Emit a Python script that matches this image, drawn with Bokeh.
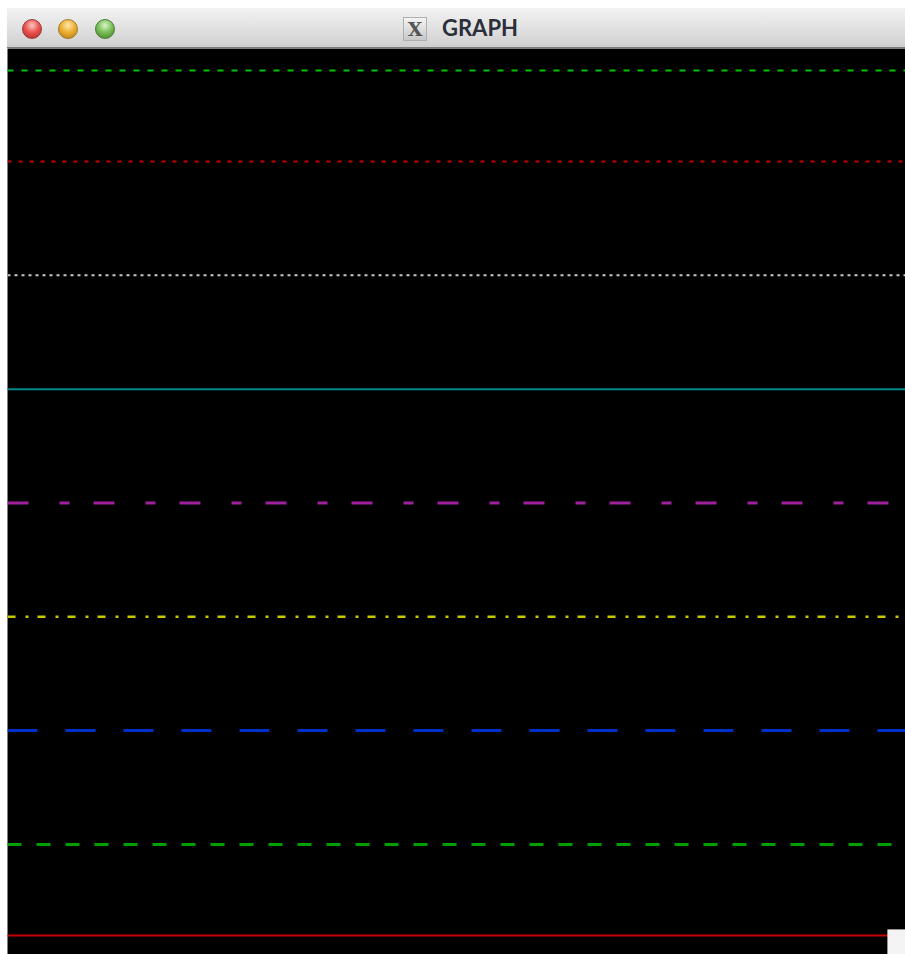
from bokeh.plotting import figure
from bokeh.models import Range1d, Div, ColumnDataSource, BoxAnnotation
from bokeh.layouts import column
from bokeh.embed import file_html
from bokeh.resources import INLINE

# --- data ---
window_title = "GRAPH"
line_levels = [7.8, 7.0, 6.0, 5.0, 4.0, 3.0, 2.0, 1.0, 0.2]
line_colors = ["#00c400", "#c80000", "#c8c8c8", "#008787", "#a020a0",
               "#c8c800", "#0030c8", "#00a000", "#c80000"]
line_dashes = ["6 8", "4 7", "3 4", "solid", "21 31 10 24",
               "8 10 3 9", "30 28", "14 15", "solid"]
line_widths = [2, 2, 2, 2, 3, 2.5, 3, 3, 2]
x_span = [0.0, 1.0]

W = 898
TITLE_H = 40
PLOT_H = 906

title_html = f"""
<div style="position:relative;width:{W}px;height:{TITLE_H}px;
 background:linear-gradient(#f2f2f2,#e2e2e2 50%,#cfcfcf);
 border-bottom:1px solid #7a7a7a;box-sizing:border-box;font-family:'Lato','Open Sans',sans-serif;">
 <span style="position:absolute;left:15px;top:11px;width:20px;height:20px;border-radius:50%;box-sizing:border-box;
   background:radial-gradient(circle at 50% 30%,#ffc8c0,#ea5550 45%,#b02a24);border:1px solid #9a3a34;"></span>
 <span style="position:absolute;left:51px;top:11px;width:20px;height:20px;border-radius:50%;box-sizing:border-box;
   background:radial-gradient(circle at 50% 30%,#ffe8b0,#eeb035 45%,#b07a14);border:1px solid #a07a28;"></span>
 <span style="position:absolute;left:88px;top:11px;width:20px;height:20px;border-radius:50%;box-sizing:border-box;
   background:radial-gradient(circle at 50% 30%,#d8f5c8,#7cc05a 45%,#3f7f24);border:1px solid #4f7a3a;"></span>
 <span style="position:absolute;left:396px;top:9px;width:24px;height:24px;
     background:linear-gradient(#f4f4f4,#c8c8c8);border:1px solid #b0b0b0;box-sizing:border-box;
     font-family:'DejaVu Serif',serif;font-weight:bold;font-size:19px;line-height:22px;text-align:center;color:#555;">X</span>
 <span style="position:absolute;left:435px;top:6px;line-height:28px;font-weight:bold;font-size:22px;color:#2a2f3a;">{window_title}</span>
</div>
"""

title = Div(text=title_html, width=W, height=TITLE_H, margin=(0, 0, 0, 0))

p = figure(width=W, height=PLOT_H, output_backend="svg", toolbar_location=None,
           x_range=Range1d(0, 1), y_range=Range1d(0.033, 7.993),
           background_fill_color="black", border_fill_color="black",
           min_border=0, outline_line_color=None, margin=(0, 0, 0, 0))
p.axis.visible = False
p.grid.visible = False

for lvl, col, dash, lw in zip(line_levels, line_colors, line_dashes, line_widths):
    src = ColumnDataSource(dict(x=x_span, y=[lvl, lvl]))
    p.line("x", "y", source=src, line_color=col, line_dash=dash, line_width=lw)

# window resize grip (bottom-right corner)
grip = BoxAnnotation(left=880, right=898, top=25, bottom=0,
                     left_units="screen", right_units="screen",
                     top_units="screen", bottom_units="screen",
                     fill_color="#f4f4f4", fill_alpha=1.0, line_color="#cccccc", line_width=1)
p.add_layout(grip)

layout = column(title, p, spacing=0, margin=(8, 0, 0, 7))

open("out.html", "w").write(file_html(layout, INLINE))
